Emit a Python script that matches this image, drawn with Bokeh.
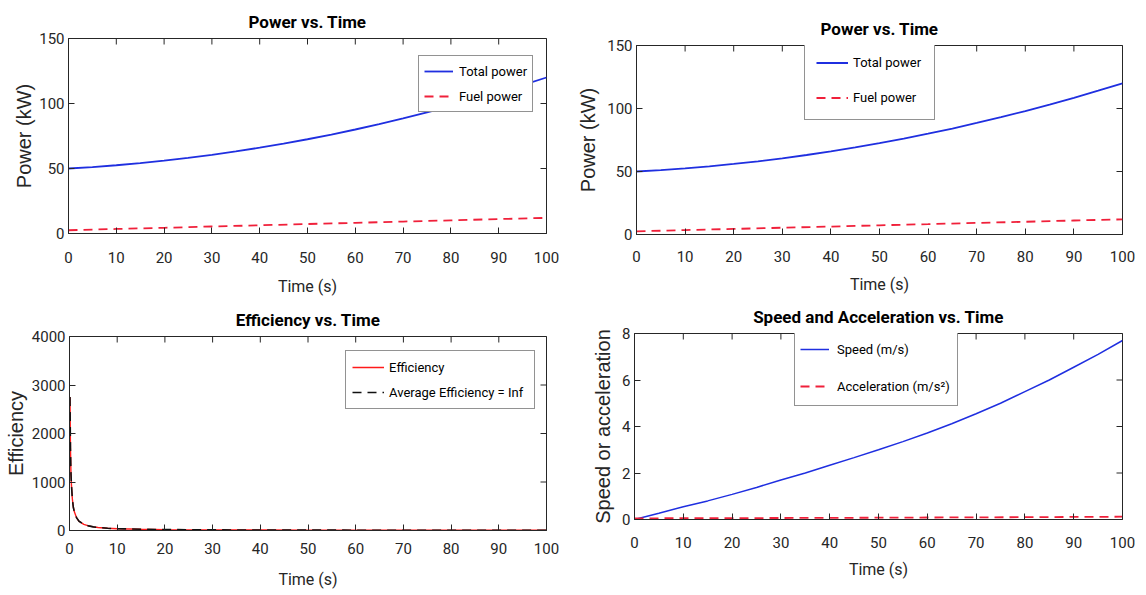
import math
from bokeh.plotting import figure
from bokeh.models import Range1d, FixedTicker, Legend, LegendItem
from bokeh.layouts import column, row
from bokeh.embed import file_html
from bokeh.resources import INLINE

# ---------------- data ----------------
time_power = [0, 5, 10, 15, 20, 25, 30, 35, 40, 45, 50, 55, 60, 65, 70, 75, 80, 85, 90, 95, 100]
total_power = [50, 51.1, 52.5, 54.1, 56, 58.1, 60.5, 63.1, 66, 69.1, 72.5, 76.1, 80, 84.1,
               88.5, 93.1, 98, 103.1, 108.5, 114.1, 120]
time_fuel = [0, 10, 20, 30, 40, 50, 60, 70, 80, 90, 100]
fuel_power = [2.5, 3.5, 4.4, 5.4, 6.3, 7.3, 8.2, 9.2, 10.1, 11.1, 12.0]

time_eff = [0.1, 0.2, 0.3, 0.4, 0.6, 0.8, 1.0, 1.5, 2, 3, 4, 5, 6, 8, 10, 15, 20, 30, 40,
            50, 60, 70, 80, 90, 100]
efficiency = [2750, 1700, 1200, 950, 650, 480, 390, 260, 190, 125, 95, 75, 62, 46, 37, 25,
              19, 13, 10, 8, 6.5, 5.5, 4.8, 4.3, 3.9]
avg_efficiency = [2750, 1700, 1200, 950, 650, 480, 390, 260, 190, 125, 95, 75, 62, 46, 37,
                  25, 19, 13, 10, 8, 6.5, 5.5, 4.8, 4.3, 3.9]

time_speed = [0, 5, 10, 15, 20, 25, 30, 35, 40, 45, 50, 55, 60, 65, 70, 75, 80, 85, 90, 95, 100]
speed = [0, 0.27, 0.55, 0.8, 1.08, 1.38, 1.7, 2.0, 2.33, 2.66, 3.0, 3.35, 3.72, 4.12, 4.55,
         5.0, 5.5, 6.0, 6.55, 7.1, 7.7]
time_acc = [0, 10, 20, 30, 40, 50, 60, 70, 80, 90, 100]
acceleration = [0.05, 0.055, 0.06, 0.065, 0.07, 0.077, 0.085, 0.093, 0.1, 0.11, 0.12]

x_ticks = [0, 10, 20, 30, 40, 50, 60, 70, 80, 90, 100]
power_ticks = [0, 50, 100, 150]
eff_ticks = [0, 1000, 2000, 3000, 4000]
speed_ticks = [0, 2, 4, 6, 8]

# ---------------- styles ----------------
HF = "Roboto"
VF = "Liberation Sans"
AX = "#262626"
BLUE = "#1f2fe0"
RED = "#f0203a"


def make_fig(w, h, borders, yr, yticks, title, ylabel, y_lab_std, x_std, x_lab_std,
             title_std):
    bl, br, bt, bb = borders
    p = figure(width=w, height=h, output_backend="svg", toolbar_location=None,
               x_range=Range1d(0, 100), y_range=Range1d(*yr),
               min_border_left=bl, min_border_right=br, min_border_top=bt,
               min_border_bottom=bb, frame_align=False)
    p.background_fill_color = "white"
    p.border_fill_color = "white"
    p.outline_line_color = AX
    p.outline_line_width = 1
    p.xgrid.visible = False
    p.ygrid.visible = False

    p.title.text = title
    p.title.align = "center"
    p.title.text_font = HF
    p.title.text_font_size = "17px"
    p.title.text_font_style = "bold"
    p.title.text_color = "#000000"
    p.title.standoff = title_std

    p.xaxis.ticker = FixedTicker(ticks=x_ticks)
    p.yaxis.ticker = FixedTicker(ticks=yticks)
    for ax in (p.xaxis[0], p.yaxis[0]):
        ax.axis_line_color = AX
        ax.major_tick_line_color = AX
        ax.major_tick_in = 6
        ax.major_tick_out = 0
        ax.minor_tick_line_color = None
        ax.major_label_text_color = AX
        ax.major_label_text_font = HF
        ax.major_label_text_font_size = "15px"
        ax.axis_label_text_color = AX
        ax.axis_label_text_font_style = "normal"
    p.xaxis.axis_label = "Time (s)"
    p.xaxis.axis_label_text_font = HF
    p.xaxis.axis_label_text_font_size = "16px"
    p.xaxis.major_label_standoff = x_std
    p.xaxis.axis_label_standoff = x_lab_std
    p.yaxis.axis_label = ylabel
    p.yaxis.axis_label_text_font = VF
    p.yaxis.axis_label_text_font_size = "20px"
    p.yaxis.major_label_standoff = 4
    p.yaxis.axis_label_standoff = y_lab_std

    # inner ticks on the top and right edges of the box
    top = [yr[1]] * len(x_ticks)
    p.scatter(x_ticks, top, marker="dash", angle=math.pi / 2, size=12,
              line_color=AX, line_width=1)
    right = [100] * len(yticks)
    p.scatter(right, yticks, marker="dash", size=12, line_color=AX, line_width=1)
    return p


def add_legend(p, items, loc, padding, glyph_w, glyph_h, spacing, standoff, label_w):
    lg = Legend(items=items, location=loc, padding=padding, glyph_width=glyph_w,
                glyph_height=glyph_h, label_height=glyph_h, spacing=spacing,
                label_standoff=standoff, label_width=label_w, margin=0,
                label_text_font=HF, label_text_font_size="13px",
                label_text_color="#000000", border_line_color=AX,
                border_line_width=1, background_fill_color="white",
                background_fill_alpha=1.0)
    p.add_layout(lg)


# ---------- top-left ----------
p1 = make_fig(574, 300, (68, 28, 38, 67), (0, 150), power_ticks, "Power vs. Time",
              "Power (kW)", 1, 18, 11, 14)
r1a = p1.line(time_power, total_power, line_color=BLUE, line_width=1.8)
r1b = p1.line(time_fuel, fuel_power, line_color=RED, line_width=1.8, line_dash="9 6")
add_legend(p1, [LegendItem(label="Total power", renderers=[r1a]),
                LegendItem(label="Fuel power", renderers=[r1b])],
           (350, 121), 5, 29, 20, 5, 6, 68)

# ---------- top-right ----------
p2 = make_fig(570, 297, (60, 22, 45, 63), (0, 150), power_ticks, "Power vs. Time",
              "Power (kW)", 5, 16, 10, 14)
r2a = p2.line(time_power, total_power, line_color=BLUE, line_width=1.8)
r2b = p2.line(time_fuel, fuel_power, line_color=RED, line_width=1.8, line_dash="9 6")
add_legend(p2, [LegendItem(label="Total power", renderers=[r2a]),
                LegendItem(label="Fuel power", renderers=[r2b])],
           (168, 114), 11, 32, 21, 14, 5, 70)

# ---------- bottom-left ----------
p3 = make_fig(574, 293, (69, 28, 34, 63), (0, 4000), eff_ticks, "Efficiency vs. Time",
              "Efficiency", 2, 12, 13, 14)
r3a = p3.line(time_eff, efficiency, line_color="#ff1a1a", line_width=1.4)
r3b = p3.line(time_eff, avg_efficiency, line_color="#111111", line_width=1.6,
              line_dash="9 6")
add_legend(p3, [LegendItem(label="Efficiency", renderers=[r3a]),
                LegendItem(label="Average Efficiency = Inf", renderers=[r3b])],
           (276, 121), 6, 32, 20, 5, 5, 139)

# ---------- bottom-right ----------
p4 = make_fig(570, 296, (60, 22, 34, 74), (0, 8), speed_ticks,
              "Speed and Acceleration vs. Time", "Speed or acceleration", 5, 17, 9, 14)
r4a = p4.line(time_speed, speed, line_color=BLUE, line_width=1.5)
r4b = p4.line(time_acc, acceleration, line_color=RED, line_width=1.8, line_dash="9 6")
add_legend(p4, [LegendItem(label="Speed (m/s)", renderers=[r4a]),
                LegendItem(label="Acceleration (m/s\u00b2)", renderers=[r4b])],
           (160, 113), 5, 29, 28, 9, 8, 115)

layout = row(column(p1, p3), column(p2, p4))
open("out.html", "w").write(file_html(layout, INLINE))
